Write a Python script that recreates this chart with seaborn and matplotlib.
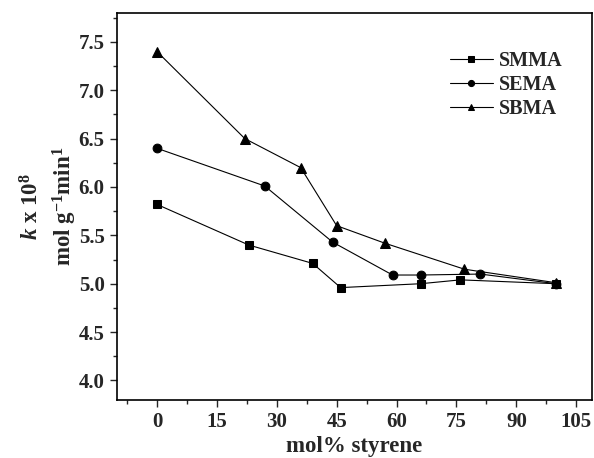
import matplotlib
matplotlib.use("Agg")
import matplotlib.pyplot as plt
import seaborn as sns
import pandas as pd
from matplotlib.ticker import MultipleLocator, FormatStrFormatter

smma_x = [0, 23, 39, 46, 66, 76, 100]
smma_y = [5.82, 5.40, 5.21, 4.96, 5.00, 5.04, 5.00]
sema_x = [0, 27, 44, 59, 66, 81, 100]
sema_y = [6.40, 6.01, 5.43, 5.09, 5.09, 5.10, 5.00]
sbma_x = [0, 22, 36, 45, 57, 77, 100]
sbma_y = [7.40, 6.50, 6.20, 5.60, 5.42, 5.15, 5.01]

series = [("SMMA", smma_x, smma_y, "s", 5.5),
          ("SEMA", sema_x, sema_y, "o", 6.3),
          ("SBMA", sbma_x, sbma_y, "^", 7.0)]


def main():
    sns.set_style("ticks")
    plt.rcParams["font.family"] = ["Liberation Serif", "DejaVu Serif"]
    plt.rcParams["font.weight"] = "bold"
    plt.rcParams["mathtext.fontset"] = "custom"
    plt.rcParams["mathtext.rm"] = "Liberation Serif:bold"
    plt.rcParams["mathtext.it"] = "Liberation Serif:italic:bold"
    plt.rcParams["mathtext.bf"] = "Liberation Serif:bold"

    fig, ax = plt.subplots(figsize=(5.94, 4.58), dpi=100)
    fig.subplots_adjust(left=0.197, right=0.997, top=0.972, bottom=0.127)

    for name, xs, ys, mk, ms in series:
        df = pd.DataFrame({"x": xs, "y": ys})
        sns.lineplot(data=df, x="x", y="y", ax=ax, color="black", lw=0.8,
                     marker=mk, markersize=ms, markeredgecolor="black",
                     markerfacecolor="black", label=name)

    ax.set_xlim(-10, 109)
    ax.set_ylim(3.8, 7.8)
    ax.set_xticks([0, 15, 30, 45, 60, 75, 90, 105])
    ax.set_yticks([4.0, 4.5, 5.0, 5.5, 6.0, 6.5, 7.0, 7.5])
    ax.xaxis.set_minor_locator(MultipleLocator(7.5))
    ax.yaxis.set_minor_locator(MultipleLocator(0.25))
    ax.yaxis.set_major_formatter(FormatStrFormatter("%.1f"))
    ax.tick_params(which="major", direction="out", length=5, width=1,
                   labelsize=15, pad=4)
    ax.tick_params(which="minor", direction="out", length=3, width=1)
    for lab in ax.get_xticklabels() + ax.get_yticklabels():
        lab.set_fontweight("bold")
    for sp in ax.spines.values():
        sp.set_visible(True)
        sp.set_linewidth(1.2)
        sp.set_color("black")

    ax.set_xlabel("mol% styrene", fontsize=16.5, fontweight="bold", labelpad=2.5)
    ax.set_ylabel("$k$ x 10$^8$\nmol g$^{-1}$min$^{1}$", fontsize=16.5,
                  fontweight="bold", linespacing=1.35, labelpad=0)

    leg = ax.legend(loc="upper left", bbox_to_anchor=(0.758, 0.888),
                    bbox_transform=fig.transFigure, frameon=False,
                    fontsize=14.5, handlelength=2.1, handletextpad=0.3,
                    labelspacing=0.2, borderpad=0, borderaxespad=0,
                    markerscale=0.7)
    for t in leg.get_texts():
        t.set_fontweight("bold")

    fig.savefig("out.png", dpi=100)


if __name__ == "__main__":
    main()
